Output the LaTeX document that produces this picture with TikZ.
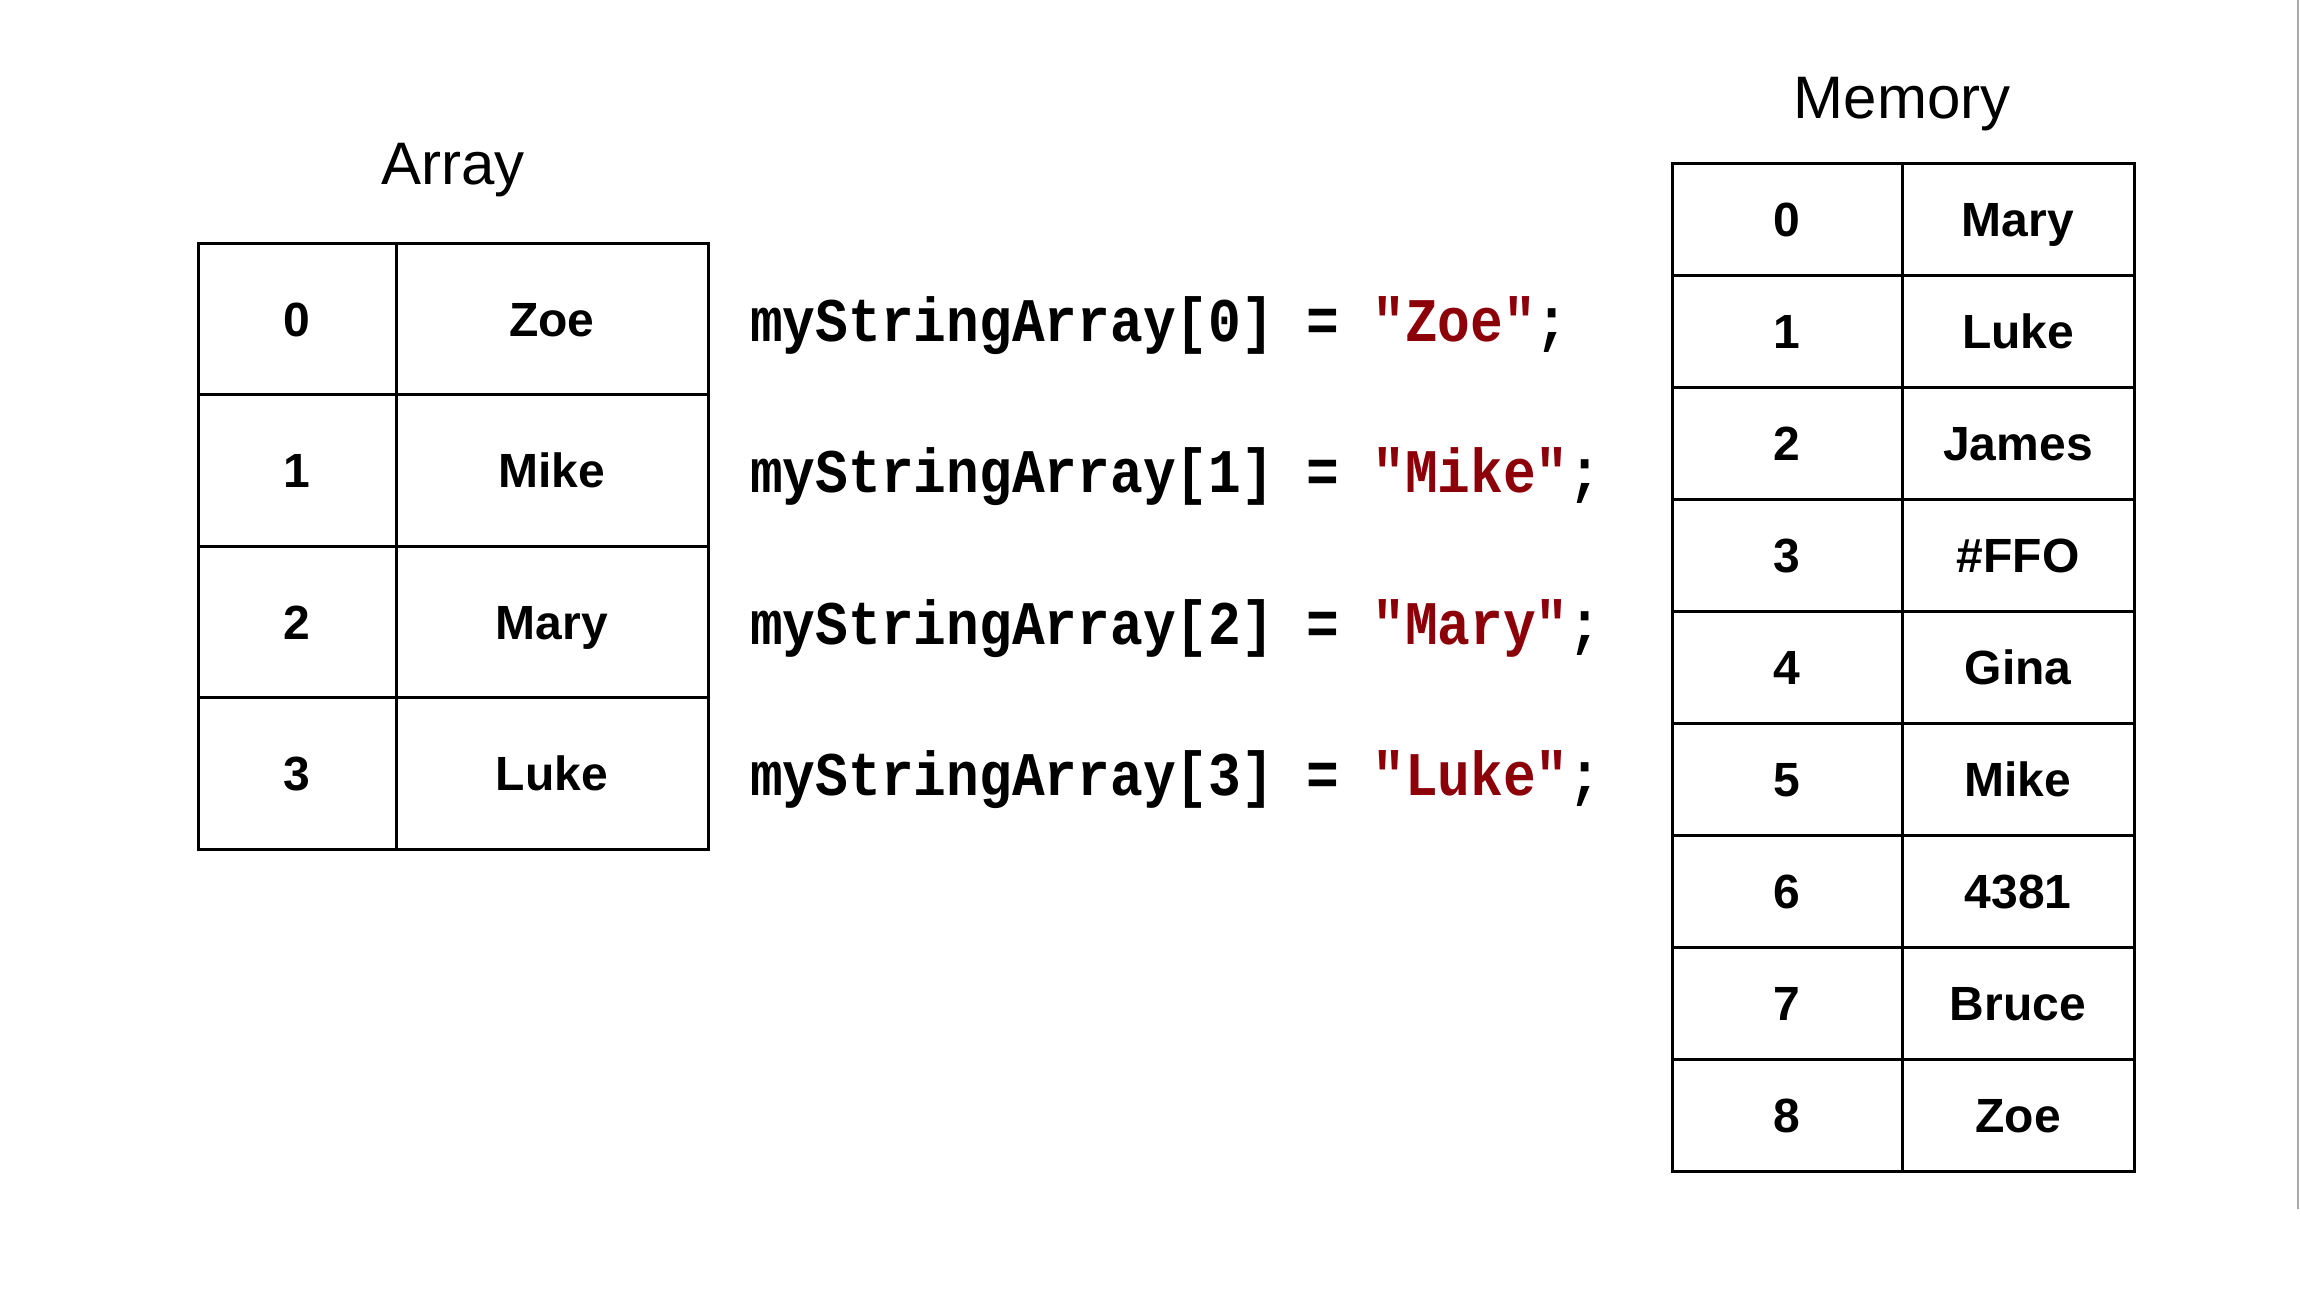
\documentclass[tikz,border=0pt]{standalone}
\usepackage{fontspec}
\setmainfont{Liberation Sans}
\newfontfamily\codefont[FakeStretch=0.88]{Liberation Mono}
\definecolor{strred}{RGB}{140,0,10}
\definecolor{edgegray}{RGB}{170,170,170}
\tikzset{
  cellbox/.style={draw=black, line width=3pt, inner sep=0pt, font=\fontsize{48}{56}\selectfont\bfseries, text height=34pt, text depth=0pt},
  titletext/.style={inner sep=0pt, font=\fontsize{60}{70}\selectfont, text height=43pt, text depth=0pt},
  codetext/.style={inner sep=0pt, anchor=west, font=\fontsize{62}{70}\selectfont\codefont\bfseries, text height=36pt, text depth=0pt},
}
\begin{document}
\begin{tikzpicture}[x=1pt, y=-1pt]
\useasboundingbox (0,0) rectangle (2300,1301);
% right gray edge
\coordinate (edgetop) at (2298,0);
\coordinate (edgebot) at (2298,1209);
\draw[edgegray, line width=2.5pt] (edgetop) -- (edgebot);
% titles
\node[titletext] (arraytitle) at (453,163) {Array};
\node[titletext] (memtitle) at (1902,97) {Memory};
% Array table
\foreach \i/\v in {0/Zoe,1/Mike,2/Mary,3/Luke}{
  \node[cellbox, minimum width=198pt, minimum height=151.4pt] (ai\i) at (297,{243.5+75.7+151.4*\i}) {\i};
  \node[cellbox, minimum width=312pt, minimum height=151.4pt] (av\i) at (552,{243.5+75.7+151.4*\i}) {\v};
}
% code lines
\foreach \i/\v in {0/Zoe,1/Mike,2/Mary,3/Luke}{
  \node[codetext] (code\i) at (750,{243.5+75.7+151.4*\i+4}) {myStringArray[\i] = \textcolor{strred}{"\v"};};
}
% Memory table
\foreach \i/\v in {0/Mary,1/Luke,2/James,3/\#FFO,4/Gina,5/Mike,6/4381,7/Bruce,8/Zoe}{
  \node[cellbox, minimum width=230pt, minimum height=112.1pt] (mi\i) at (1787,{163+56.05+112.1*\i}) {\i};
  \node[cellbox, minimum width=232pt, minimum height=112.1pt] (mv\i) at (2018,{163+56.05+112.1*\i}) {\v};
}
\end{tikzpicture}
\end{document}
